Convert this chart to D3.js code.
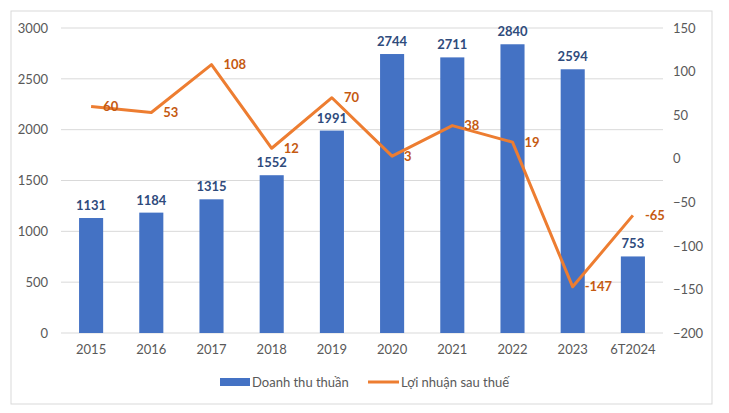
<!DOCTYPE html>
<html><head><meta charset="utf-8">
<script src="https://cdn.jsdelivr.net/npm/d3@7/dist/d3.min.js"></script>
<style>body{margin:0;background:#fff}svg{display:block}text{font-family:Lato,"Open Sans",sans-serif}</style>
</head><body><svg id="c" width="729" height="413"></svg>
<script>
const categories = ["2015","2016","2017","2018","2019","2020","2021","2022","2023","6T2024"];
const revenue = [1131,1184,1315,1552,1991,2744,2711,2840,2594,753];
const profit = [60,53,108,12,70,3,38,19,-147,-65];
const leftTicks = [0,500,1000,1500,2000,2500,3000];
const rightTicks = [-200,-150,-100,-50,0,50,100,150];
const seriesNames = ["Doanh thu thuần","Lợi nhuận sau thuế"];

const svg = d3.select("#c");
svg.append("rect").attr("x",11).attr("y",11).attr("width",701).attr("height",393)
  .attr("fill","#fff").attr("stroke","#D9D9D9");
const x = d3.scaleBand().domain(categories).range([61,663]).paddingInner(0.6).paddingOuter(0.3);
const yL = d3.scaleLinear().domain([0,3000]).range([333,28]);
const yR = d3.scaleLinear().domain([-200,150]).range([333,28]);

// gridlines
svg.append("g").selectAll("line").data(leftTicks).join("line")
  .attr("x1",61).attr("x2",663).attr("y1",d=>yL(d)).attr("y2",d=>yL(d))
  .attr("stroke","#D9D9D9").attr("stroke-width",1);

// left axis
const ga = svg.append("g").attr("transform","translate(61,0)")
  .call(d3.axisLeft(yL).tickValues(leftTicks).tickSize(0).tickPadding(13).tickFormat(d3.format("d")));
ga.select(".domain").remove();
ga.selectAll("text").attr("fill","#595959").style("font-size","13px");
const gr = svg.append("g").attr("transform","translate(663,0)")
  .call(d3.axisRight(yR).tickValues(rightTicks).tickSize(0).tickPadding(10).tickFormat(d3.format("d")));
gr.select(".domain").remove();
gr.selectAll("text").attr("fill","#595959").style("font-size","13px");
const gx = svg.append("g").attr("transform","translate(0,333)")
  .call(d3.axisBottom(x).tickSize(0).tickPadding(12));
gx.select(".domain").remove();
gx.selectAll("text").attr("fill","#595959").style("font-size","13px");

// bars
svg.append("g").selectAll("rect").data(categories).join("rect")
  .attr("x",d=>x(d)).attr("width",x.bandwidth())
  .attr("y",(d,i)=>yL(revenue[i])).attr("height",(d,i)=>yL(0)-yL(revenue[i]))
  .attr("fill","#4472C4");
svg.append("g").selectAll("text").data(categories).join("text")
  .attr("x",d=>x(d)+x.bandwidth()/2).attr("y",(d,i)=>yL(revenue[i])-8)
  .attr("text-anchor","middle").attr("fill","#2F4B7C").style("font-size","13px").style("font-weight","bold")
  .text((d,i)=>revenue[i]);

// line
const line = d3.line().x((d,i)=>x(categories[i])+x.bandwidth()/2).y(d=>yR(d));
svg.append("path").datum(profit).attr("d",line).attr("fill","none")
  .attr("stroke","#ED7D31").attr("stroke-width",3).attr("stroke-linejoin","round");
svg.append("g").selectAll("text").data(profit).join("text")
  .attr("x",(d,i)=>x(categories[i])+x.bandwidth()/2+12).attr("y",d=>yR(d)).attr("dy","0.35em")
  .attr("fill","#C55A11").style("font-size","13px").style("font-weight","bold")
  .text(d=>d);

// legend
const lg = svg.append("g");
lg.append("rect").attr("x",220).attr("y",378).attr("width",30).attr("height",8).attr("fill","#4472C4");
lg.append("text").attr("x",252).attr("y",382).attr("dy","0.35em").attr("fill","#595959").style("font-size","13px").text(seriesNames[0]);
lg.append("line").attr("x1",368).attr("x2",399).attr("y1",382).attr("y2",382).attr("stroke","#ED7D31").attr("stroke-width",3);
lg.append("text").attr("x",401).attr("y",382).attr("dy","0.35em").attr("fill","#595959").style("font-size","13px").text(seriesNames[1]);
</script></body></html>
